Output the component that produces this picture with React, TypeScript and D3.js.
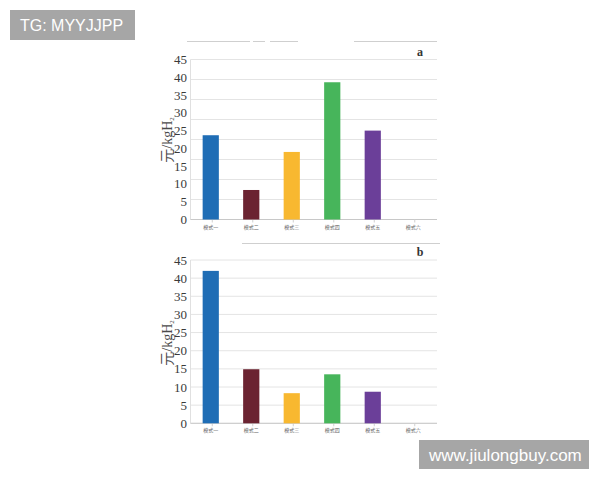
import React from 'react';
import * as d3 from 'd3';

const categories = ['模式一', '模式二', '模式三', '模式四', '模式五', '模式六'];
const valuesA = [23.7, 8.3, 19.0, 38.6, 25.0, 0];
const valuesB = [42.0, 14.9, 8.3, 13.5, 8.7, 0];
const yTicks = [0, 5, 10, 15, 20, 25, 30, 35, 40, 45];
const barColors = ['#1f6db5', '#6b2331', '#f8b830', '#47b55b', '#6b3f99', '#999999'];

interface PanelProps {
  values: number[];
  label: string;
  yTop: number;
  yBottom: number;
  gridCount: number;
  titleY: number;
}

const Panel: React.FC<PanelProps> = ({ values, label, yTop, yBottom, gridCount, titleY }) => {
  const x = d3
    .scaleBand<string>()
    .domain(categories)
    .range([190.5, 433.5])
    .paddingInner(0.6)
    .paddingOuter(0.3);

  const y = d3.scaleLinear().domain([0, 45]).range([yBottom, yTop]);

  // grid lines in the source don't always line up with the labels
  const grid = d3.range(gridCount + 1).map((i) => (45 * i) / gridCount);
  const step = x.step();

  return (
    <g>
      {grid.map((g) => (
        <line
          key={'g' + g}
          x1={190.5}
          x2={437}
          y1={y(g)}
          y2={y(g)}
          stroke="#e4e4e4"
          strokeWidth={1}
        />
      ))}
      <line x1={190.5} x2={190.5} y1={yTop} y2={yBottom} stroke="#e0e0e0" />
      <line x1={190.5} x2={437} y1={yBottom} y2={yBottom} stroke="#c8c8c8" />
      {categories.map((c, i) => (
        <line
          key={'t' + c}
          x1={190.5 + step * (i + 0.5) + 1.5}
          x2={190.5 + step * (i + 0.5) + 1.5}
          y1={yBottom}
          y2={yBottom + 3}
          stroke="#d0d0d0"
        />
      ))}
      {yTicks.map((t) => (
        <text
          key={'y' + t}
          x={187}
          y={y(t)}
          dy="0.35em"
          textAnchor="end"
          fontFamily="Liberation Serif, serif"
          fontSize={13}
          fill="#3a3a3a"
        >
          {t}
        </text>
      ))}
      {values.map((v, i) => (
        <rect
          key={'b' + i}
          x={x(categories[i]) ?? 0}
          y={y(v)}
          width={x.bandwidth()}
          height={yBottom - y(v)}
          fill={barColors[i]}
        />
      ))}
      {categories.map((c) => (
        <text
          key={'x' + c}
          x={(x(c) ?? 0) + x.bandwidth() / 2}
          y={yBottom + 9}
          textAnchor="middle"
          fontFamily="Noto Sans CJK SC, sans-serif"
          fontSize={5}
          fill="#666"
        >
          {c}
        </text>
      ))}
      <text
        x={420}
        y={yTop - 4}
        textAnchor="middle"
        fontFamily="Liberation Serif, serif"
        fontWeight="bold"
        fontSize={12}
        fill="#333"
      >
        {label}
      </text>
      <text
        transform={`translate(172,${titleY}) rotate(-90)`}
        textAnchor="middle"
        fontFamily="Liberation Serif, Noto Sans CJK SC, serif"
        fontSize={14}
        fill="#4a4a4a"
      >
        元/kgH<tspan fontSize={7} dy={2}>2</tspan>
      </text>
    </g>
  );
};

export default function App() {
  return (
    <svg
      width={600}
      height={480}
      style={{ position: 'absolute', left: 0, top: 0, background: '#fff' }}
    >
      {/* leftover rules from the cropped source image */}
      <g stroke="#cfcfcf" strokeWidth={1}>
        <line x1={187} x2={250} y1={41.5} y2={41.5} />
        <line x1={253} x2={265} y1={41.5} y2={41.5} />
        <line x1={270} x2={298} y1={41.5} y2={41.5} />
        <line x1={354} x2={437} y1={41.5} y2={41.5} />
        <line x1={242} x2={440} y1={243.5} y2={243.5} />
      </g>
      <Panel values={valuesA} label="a" yTop={59.5} yBottom={219.5} gridCount={8} titleY={140} />
      <Panel values={valuesB} label="b" yTop={260} yBottom={423.3} gridCount={9} titleY={343} />

      <rect x={10} y={10} width={125} height={30} fill="#a6a6a6" />
      <text x={20} y={31} fontFamily="Liberation Sans, Arial, sans-serif" fontSize={16} fill="#fff">
        TG: MYYJJPP
      </text>
      <rect x={419} y={440} width={170} height={29} fill="#a6a6a6" />
      <text x={429} y={461} fontFamily="Liberation Sans, Arial, sans-serif" fontSize={17} fill="#fff">
        www.jiulongbuy.com
      </text>
    </svg>
  );
}
